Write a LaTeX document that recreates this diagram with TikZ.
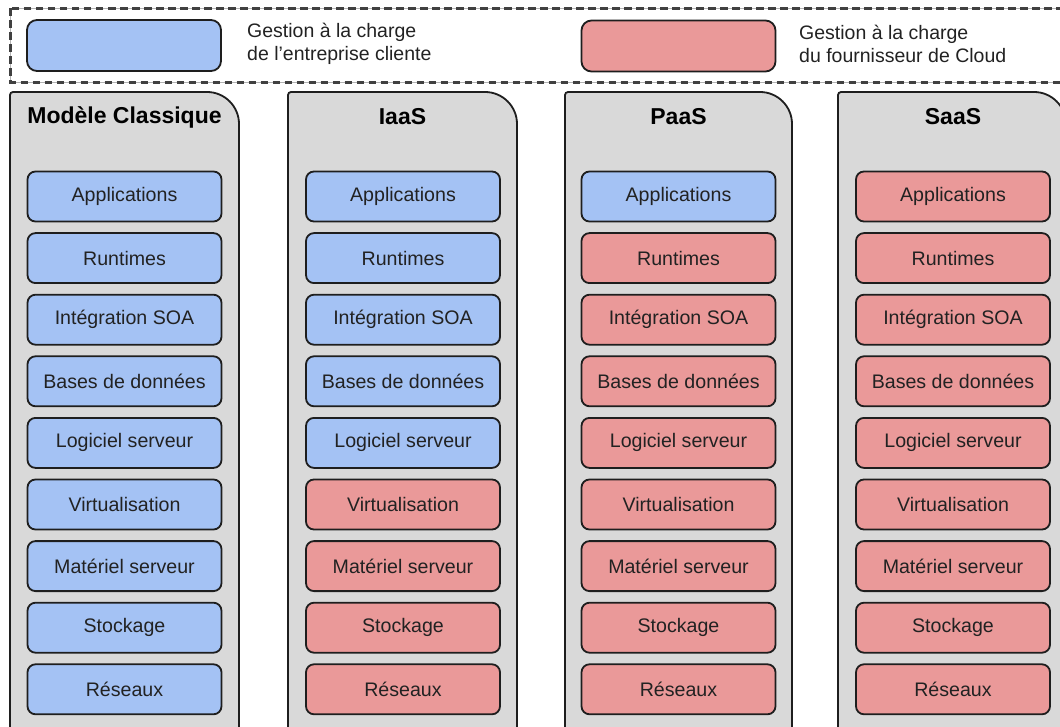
\documentclass[tikz,border=0pt]{standalone}
\usepackage{fontspec}
\setmainfont{Liberation Sans}
\definecolor{cblue}{HTML}{A4C2F4}
\definecolor{cred}{HTML}{EA9999}
\definecolor{cgray}{HTML}{D9D9D9}
\definecolor{cline}{HTML}{1E1E1E}
\definecolor{ctext}{HTML}{222222}
\tikzset{
  colbox/.style={fill=cgray, draw=cline, line width=1.8pt},
  layer/.style={draw=cline, line width=1.8pt, rounded corners=8pt,
    minimum width=194pt, minimum height=50pt, inner sep=0pt,
    text=ctext, font=\fontsize{19.6}{22}\selectfont},
  bluelayer/.style={layer, fill=cblue},
  redlayer/.style={layer, fill=cred},
  coltitle/.style={font=\bfseries\fontsize{23}{27}\selectfont, text=black, inner sep=0pt},
  legtext/.style={font=\fontsize{19.5}{23}\selectfont, text=ctext, align=left, anchor=west, inner sep=0pt},
  legbox/.style={draw=cline, line width=1.8pt, rounded corners=10pt,
    minimum width=194pt, minimum height=51pt, inner sep=0pt},
}
\begin{document}
\begin{tikzpicture}[x=1pt,y=1pt]
\useasboundingbox (0,0) rectangle (1060,-727);
\clip (0,0) rectangle (1060,-727);
\fill[white] (0,0) rectangle (1060,-727);
% legend frame
\draw[gray!60, line width=0.6pt] (10.5,-8.5) rectangle (1075,-82.5);
\draw[cline!85, line width=2.2pt, dash pattern=on 7.5pt off 4.5pt] (10.5,-8.5) rectangle (1075,-82.5);
\node[legbox, fill=cblue] (legc) at (124,-45.5) {};
\node[legtext] (legct) at (247,-43.5) {Gestion à la charge\\de l’entreprise cliente};
\node[legbox, fill=cred] (legf) at (678.5,-46) {};
\node[legtext] (legft) at (799,-44) {Gestion à la charge\\du fournisseur de Cloud};
% columns
\draw[colbox] (10,-740) -- (10,-95) arc[start angle=180,end angle=90,radius=3] -- (207,-92) arc[start angle=90,end angle=0,radius=32] -- (239,-740) -- cycle;
\draw[colbox] (288,-740) -- (288,-95) arc[start angle=180,end angle=90,radius=3] -- (485,-92) arc[start angle=90,end angle=0,radius=32] -- (517,-740) -- cycle;
\draw[colbox] (565,-740) -- (565,-95) arc[start angle=180,end angle=90,radius=3] -- (760,-92) arc[start angle=90,end angle=0,radius=32] -- (792,-740) -- cycle;
\draw[colbox] (838,-740) -- (838,-95) arc[start angle=180,end angle=90,radius=3] -- (1034,-92) arc[start angle=90,end angle=0,radius=32] -- (1066,-740) -- cycle;
\node[coltitle] (t1) at (124.5,-117) {Modèle Classique};
\node[coltitle] (t2) at (402.5,-117) {IaaS};
\node[coltitle] (t3) at (678.5,-117) {PaaS};
\node[coltitle] (t4) at (953,-117) {SaaS};
% layers
\foreach \lbl [count=\i] in {Applications,Runtimes,Intégration SOA,Bases de données,Logiciel serveur,Virtualisation,Matériel serveur,Stockage,Réseaux}{
  \pgfmathsetmacro{\yy}{-196.5-61.6*(\i-1)}
  % Modèle classique: all blue
  \node[bluelayer] (a\i) at (124.5,\yy) {\raisebox{-1.5pt}{\lbl}};
  % IaaS: first 5 blue
  \ifnum\i<6
    \node[bluelayer] (b\i) at (403,\yy) {\raisebox{-1.5pt}{\lbl}};
  \else
    \node[redlayer] (b\i) at (403,\yy) {\raisebox{-1.5pt}{\lbl}};
  \fi
  % PaaS: first blue
  \ifnum\i<2
    \node[bluelayer] (c\i) at (678.5,\yy) {\raisebox{-1.5pt}{\lbl}};
  \else
    \node[redlayer] (c\i) at (678.5,\yy) {\raisebox{-1.5pt}{\lbl}};
  \fi
  % SaaS: all red
  \node[redlayer] (d\i) at (953,\yy) {\raisebox{-1.5pt}{\lbl}};
}
\end{tikzpicture}
\end{document}
